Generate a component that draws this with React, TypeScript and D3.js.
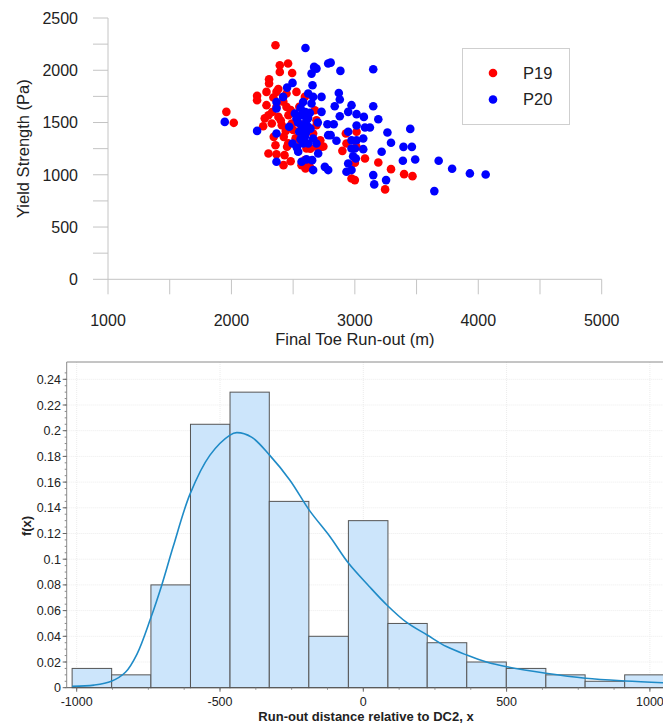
import React from 'react';
import * as d3 from 'd3';

// ---------- Top scatter data ----------
const p19: [number, number][] = [
  [2357,2239],[1959,1602],[2019,1497],[2208,1755],[2208,1713],[2305,1914],[2305,1873],[2392,2048],[2459,2064],
  [2392,1984],[2492,1974],[2284,1793],[2365,1793],[2446,1777],[2527,1793],[2284,1666],[2365,1650],[2446,1650],
  [2300,1570],[2381,1554],[2462,1570],[2327,1490],[2408,1475],[2489,1490],[2257,1465],[2343,1363],[2424,1363],
  [2357,1283],[2451,1268],[2300,1204],[2365,1197],[2430,1188],[2422,1092],[2554,1331],[2608,1252],[2568,1092],
  [2635,1076],[2595,1140],[2689,1268],[2730,1268],[2662,1395],[2689,1474],[2689,1522],[2676,1618],[2595,1745],
  [2927,1395],[3014,1411],[2932,1299],[2899,1229],[3014,1267],[3082,1156],[3000,1115],[3190,1118],[3293,1054],
  [3399,1006],[3467,987],[3245,860],[2973,965],[3000,949],
  [2330,1600],[2420,1700],[2480,1620],[2500,1430],[2270,1540],[2400,1520],[2440,1420],[2560,1480],[2620,1550],
  [2520,1350],[2460,1300],[2380,1820],[2340,1740],[2550,1650],[2600,1400],[2720,1330],[2640,1250],[2480,1130],
  [2600,1060],[2745,1270],[2625,1079],
];

const p20: [number, number][] = [
  [2804,2073],[2883,1994],[3149,2010],[2870,1783],[2878,1720],[2837,1656],[2973,1666],[3149,1656],[2946,1602],
  [3014,1580],[3073,1554],[2878,1560],[3190,1532],[2829,1484],[3014,1471],[3082,1452],[3122,1452],[2804,1379],
  [2851,1325],[2946,1411],[2973,1331],[3014,1331],[3068,1347],[2973,1252],[3000,1252],[3068,1245],[3264,1404],
  [3449,1439],[3293,1306],[3394,1267],[3462,1267],[3217,1220],[2986,1178],[3008,1156],[2946,1108],[2973,1045],
  [2932,1029],[3389,1134],[3489,1146],[3149,997],[3253,949],[3157,908],[3679,1134],[3788,1057],[3932,1013],
  [4060,1003],[3644,844],
  [2600,2213],[2784,2064],[2670,2032],[2689,2016],[2649,1968],[2657,1857],[2495,1879],[2451,1834],[2419,1745],
  [2622,1777],[2662,1745],[2730,1745],[2581,1697],[2649,1682],[2365,1697],[2365,1634],[2730,1602],[2514,1586],
  [2568,1570],[2635,1592],[2527,1538],[2608,1522],[2568,1474],[2622,1459],[2468,1459],[2778,1484],[2549,1411],
  [2603,1401],[2365,1395],[2208,1420],[2784,1379],[1946,1506],[2495,1299],[2581,1299],[2622,1299],[2541,1220],
  [2689,1299],[2703,1204],[2608,1147],[2654,1140],[2365,1124],[2568,1124],[2662,1045],[2757,1076],[2784,1045],
  [2595,1363],[2662,1347],
  [2560,1640],[2600,1600],[2540,1500],[2620,1540],[2580,1420],[2560,1340],[2530,1260],[2640,1440],[2700,1500],
];

const seriesNames = ['P19', 'P20'];
const seriesColors = ['#ff0000', '#0000ff'];
const topXTicks = [1000, 1500, 2000, 2500, 3000, 3500, 4000, 4500, 5000];
const topXLabels = [1000, 2000, 3000, 4000, 5000];
const topYTicks = [0, 250, 500, 750, 1000, 1250, 1500, 1750, 2000, 2250, 2500];
const topYLabels = [0, 500, 1000, 1500, 2000, 2500];

// ---------- Bottom histogram data ----------
const binEdges = [-1016, -878, -741, -603, -465, -328, -190, -52, 86, 223, 361, 499, 637, 774, 912, 1050];
const binFreq = [0.015, 0.01, 0.08, 0.205, 0.23, 0.145, 0.04, 0.13, 0.05, 0.035, 0.02, 0.015, 0.01, 0.005, 0.01];
const curveX = [-1016, -940, -879, -830, -790, -742, -703, -663, -604, -535, -465, -442, -390, -327, -256, -188, -116, -52, 20, 84, 150, 223, 290, 361, 430, 500, 637, 775, 913, 1046];
const curveF = [0.001, 0.002, 0.005, 0.012, 0.026, 0.054, 0.08, 0.11, 0.151, 0.181, 0.1966, 0.1985, 0.195, 0.181, 0.1615, 0.138, 0.1175, 0.097, 0.079, 0.064, 0.051, 0.041, 0.032, 0.0254, 0.02, 0.0163, 0.0112, 0.0073, 0.0052, 0.0039];
const histYTicks = [0, 0.02, 0.04, 0.06, 0.08, 0.1, 0.12, 0.14, 0.16, 0.18, 0.2, 0.22, 0.24];
const histXTicks = [-1000, -500, 0, 500, 1000];

export default function App() {
  // top scales
  const xS = d3.scaleLinear().domain([1000, 5000]).range([108, 601.7]);
  const yS = d3.scaleLinear().domain([0, 2500]).range([279.3, 18]);
  const axisCol = '#c4c4c4';
  const font = '"Liberation Sans", Arial, sans-serif';

  // bottom scales
  const hx = d3.scaleLinear().domain([-1000, 1000]).range([76.7, 649.9]);
  const hy = d3.scaleLinear().domain([0, 0.24]).range([687.7, 379.3]);
  const frameLeft = 66.7;
  const frameTop = 362;

  const curvePts: [number, number][] = curveX.map((x, i) => [hx(x), hy(curveF[i])]);
  const line = d3.line().curve(d3.curveCatmullRom.alpha(0.5))(curvePts) || '';

  const minorY = d3.range(0, 0.2451, 0.005);
  const minorX = d3.range(-1000, 1051, 125);

  return (
    <svg width={663} height={725} style={{ position: 'absolute', left: 0, top: 0, background: '#fff' }} fontFamily={font}>
      <rect x={0} y={0} width={663} height={725} fill="#fff" />
      {/* ===== Top scatter ===== */}
      <line x1={xS(1000)} x2={xS(1000)} y1={yS(2500)} y2={yS(0)} stroke={axisCol} />
      {topYTicks.map(t => (
        <line key={'yt' + t} x1={93} x2={xS(1000)} y1={yS(t)} y2={yS(t)} stroke={axisCol} />
      ))}
      {topYLabels.map(t => (
        <text key={'yl' + t} x={78} y={yS(t)} dy="0.36em" textAnchor="end" fontSize={16} fill="#222">{t}</text>
      ))}
      <line x1={xS(1000)} x2={xS(5000)} y1={yS(0)} y2={yS(0)} stroke={axisCol} />
      {topXTicks.map(t => (
        <line key={'xt' + t} x1={xS(t)} x2={xS(t)} y1={yS(0)} y2={yS(0) + 15} stroke={axisCol} />
      ))}
      {topXLabels.map(t => (
        <text key={'xl' + t} x={xS(t)} y={326} textAnchor="middle" fontSize={16} fill="#222">{t}</text>
      ))}
      <text x={xS(3000)} y={345} textAnchor="middle" fontSize={16.5} fill="#222">Final Toe Run-out (m)</text>
      <text transform={`translate(29,${yS(1250)}) rotate(-90)`} textAnchor="middle" fontSize={16.5} fill="#222">Yield Strength (Pa)</text>

      {p19.map((d, i) => (
        <circle key={'r' + i} cx={xS(d[0])} cy={yS(d[1])} r={4.3} fill={seriesColors[0]} />
      ))}
      {p20.map((d, i) => (
        <circle key={'b' + i} cx={xS(d[0])} cy={yS(d[1])} r={4.3} fill={seriesColors[1]} />
      ))}

      {/* legend */}
      <rect x={462.5} y={48.5} width={107} height={76} fill="#fff" stroke="#cfcfcf" />
      {seriesNames.map((n, i) => (
        <g key={n}>
          <circle cx={493} cy={73 + i * 26.5} r={4.3} fill={seriesColors[i]} />
          <text x={523} y={73 + i * 26.5} dy="0.36em" fontSize={16.5} fill="#222">{n}</text>
        </g>
      ))}

      {/* ===== Bottom histogram ===== */}
      {histYTicks.map(t => (
        <line key={'hg' + t} x1={frameLeft} x2={663} y1={hy(t)} y2={hy(t)} stroke="#ececec" strokeDasharray="1,1" />
      ))}
      {histXTicks.map(t => (
        <line key={'vg' + t} x1={hx(t)} x2={hx(t)} y1={frameTop} y2={hy(0)} stroke="#ececec" strokeDasharray="1,1" />
      ))}
      {binFreq.map((f, i) => (
        <rect key={'bar' + i} x={hx(binEdges[i])} y={hy(f)} width={hx(binEdges[i + 1]) - hx(binEdges[i])} height={hy(0) - hy(f)}
          fill="#cce5fb" stroke="#555" strokeWidth={1} />
      ))}
      <path d={line} fill="none" stroke="#1f8bc7" strokeWidth={1.6} />

      {/* frame */}
      <line x1={frameLeft} x2={663} y1={frameTop} y2={frameTop} stroke="#8a8a8a" />
      <line x1={frameLeft} x2={frameLeft} y1={frameTop} y2={hy(0)} stroke="#8a8a8a" />
      <line x1={frameLeft} x2={663} y1={hy(0)} y2={hy(0)} stroke="#555" />
      {minorY.map(t => (
        <line key={'my' + t} x1={frameLeft - 2} x2={frameLeft} y1={hy(t)} y2={hy(t)} stroke="#888" />
      ))}
      {histYTicks.map(t => (
        <line key={'mjy' + t} x1={frameLeft - 4} x2={frameLeft} y1={hy(t)} y2={hy(t)} stroke="#666" />
      ))}
      {histYTicks.map(t => (
        <text key={'hyl' + t} x={61} y={hy(t)} dy="0.36em" textAnchor="end" fontSize={12.5} fill="#222">{String(+t.toFixed(2))}</text>
      ))}
      {minorX.map(t => (
        <line key={'mx' + t} x1={hx(t)} x2={hx(t)} y1={hy(0)} y2={hy(0) + 2} stroke="#888" />
      ))}
      {histXTicks.map(t => (
        <line key={'mjx' + t} x1={hx(t)} x2={hx(t)} y1={hy(0)} y2={hy(0) + 4} stroke="#666" />
      ))}
      {histXTicks.map(t => (
        <text key={'hxl' + t} x={hx(t)} y={706} textAnchor="middle" fontSize={12.5} fill="#222">{t}</text>
      ))}
      <text x={366} y={721} textAnchor="middle" fontSize={13} fontWeight="bold" fill="#222">Run-out distance relative to DC2, x</text>
      <text transform={`translate(31,526) rotate(-90)`} textAnchor="middle" fontSize={13} fontWeight="bold" fill="#222">f(x)</text>
    </svg>
  );
}
